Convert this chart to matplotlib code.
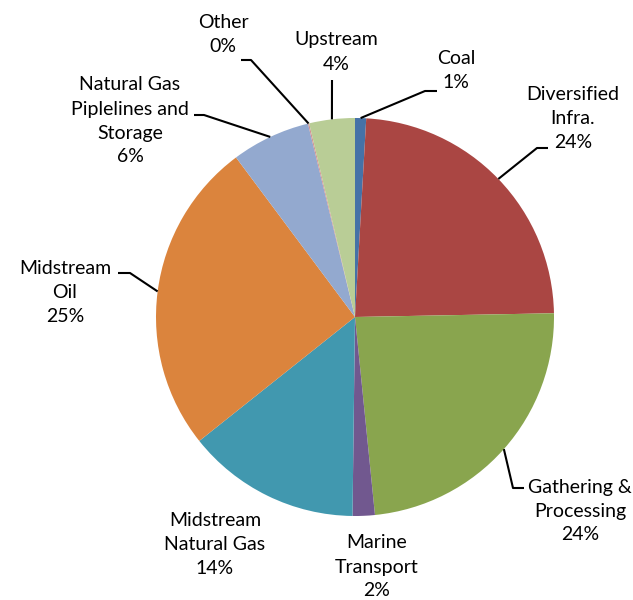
import numpy as np
import matplotlib
matplotlib.use("Agg")
import matplotlib.pyplot as plt

categories = ["Coal", "Diversified\nInfra.", "Gathering &\nProcessing", "Marine\nTransport",
              "Midstream\nNatural Gas", "Midstream\nOil", "Natural Gas\nPiplelines and\nStorage",
              "Other", "Upstream"]
values = [0.9, 23.8, 23.7, 1.8, 14.1, 25.5, 6.4, 0.1, 3.7]
pct_labels = ["1%", "24%", "24%", "2%", "14%", "25%", "6%", "0%", "4%"]
colors = ["#4572A7", "#AA4643", "#89A54E", "#71588F", "#4198AF", "#DB843D",
          "#93A9CF", "#D19392", "#B9CD96"]

W, H = 633, 600
fig = plt.figure(figsize=(W / 100, H / 100), dpi=100)
ax = fig.add_axes([0, 0, 1, 1])

cx, cy, r = 355, H - 317, 199
wedges, _ = ax.pie(values, colors=colors, startangle=90, counterclock=False,
                   center=(cx, cy), radius=r, wedgeprops=dict(linewidth=0),
                   frame=True)
ax.set_xlim(0, W)
ax.set_ylim(0, H)
ax.set_aspect("equal")
ax.axis("off")

# label text centres (pixel coords, y from top) and leader elbows
label_pos = [(456, 71), (573, 118), (580, 511), (377, 567), (215, 545),
             (65, 293), (130, 121), (223, 34), (336, 52)]
leaders = {
    0: [(437, 91), (425, 91)],
    1: [(548, 148), (537, 148)],
    2: [(524, 488), (513, 488)],
    5: [(118, 273), (130, 273)],
    6: [(194, 115), (204, 115)],
    7: [(241, 60), (251, 60)],
    8: [(332, 80)],
}

for i, w in enumerate(wedges):
    lx, ly = label_pos[i]
    ax.text(lx, H - ly, categories[i] + "\n" + pct_labels[i], ha="center", va="center",
            fontsize=14, family=["Lato", "DejaVu Sans"], color="black",
            linespacing=1.5)
    if i in leaders:
        ang = np.deg2rad((w.theta1 + w.theta2) / 2)
        ex, ey = cx + r * np.cos(ang), cy + r * np.sin(ang)
        pts = [(x, H - y) for x, y in leaders[i]] + [(ex, ey)]
        xs, ys = zip(*pts)
        ax.plot(xs, ys, color="black", lw=1.5, solid_capstyle="butt")

fig.savefig("out.png", dpi=100)
